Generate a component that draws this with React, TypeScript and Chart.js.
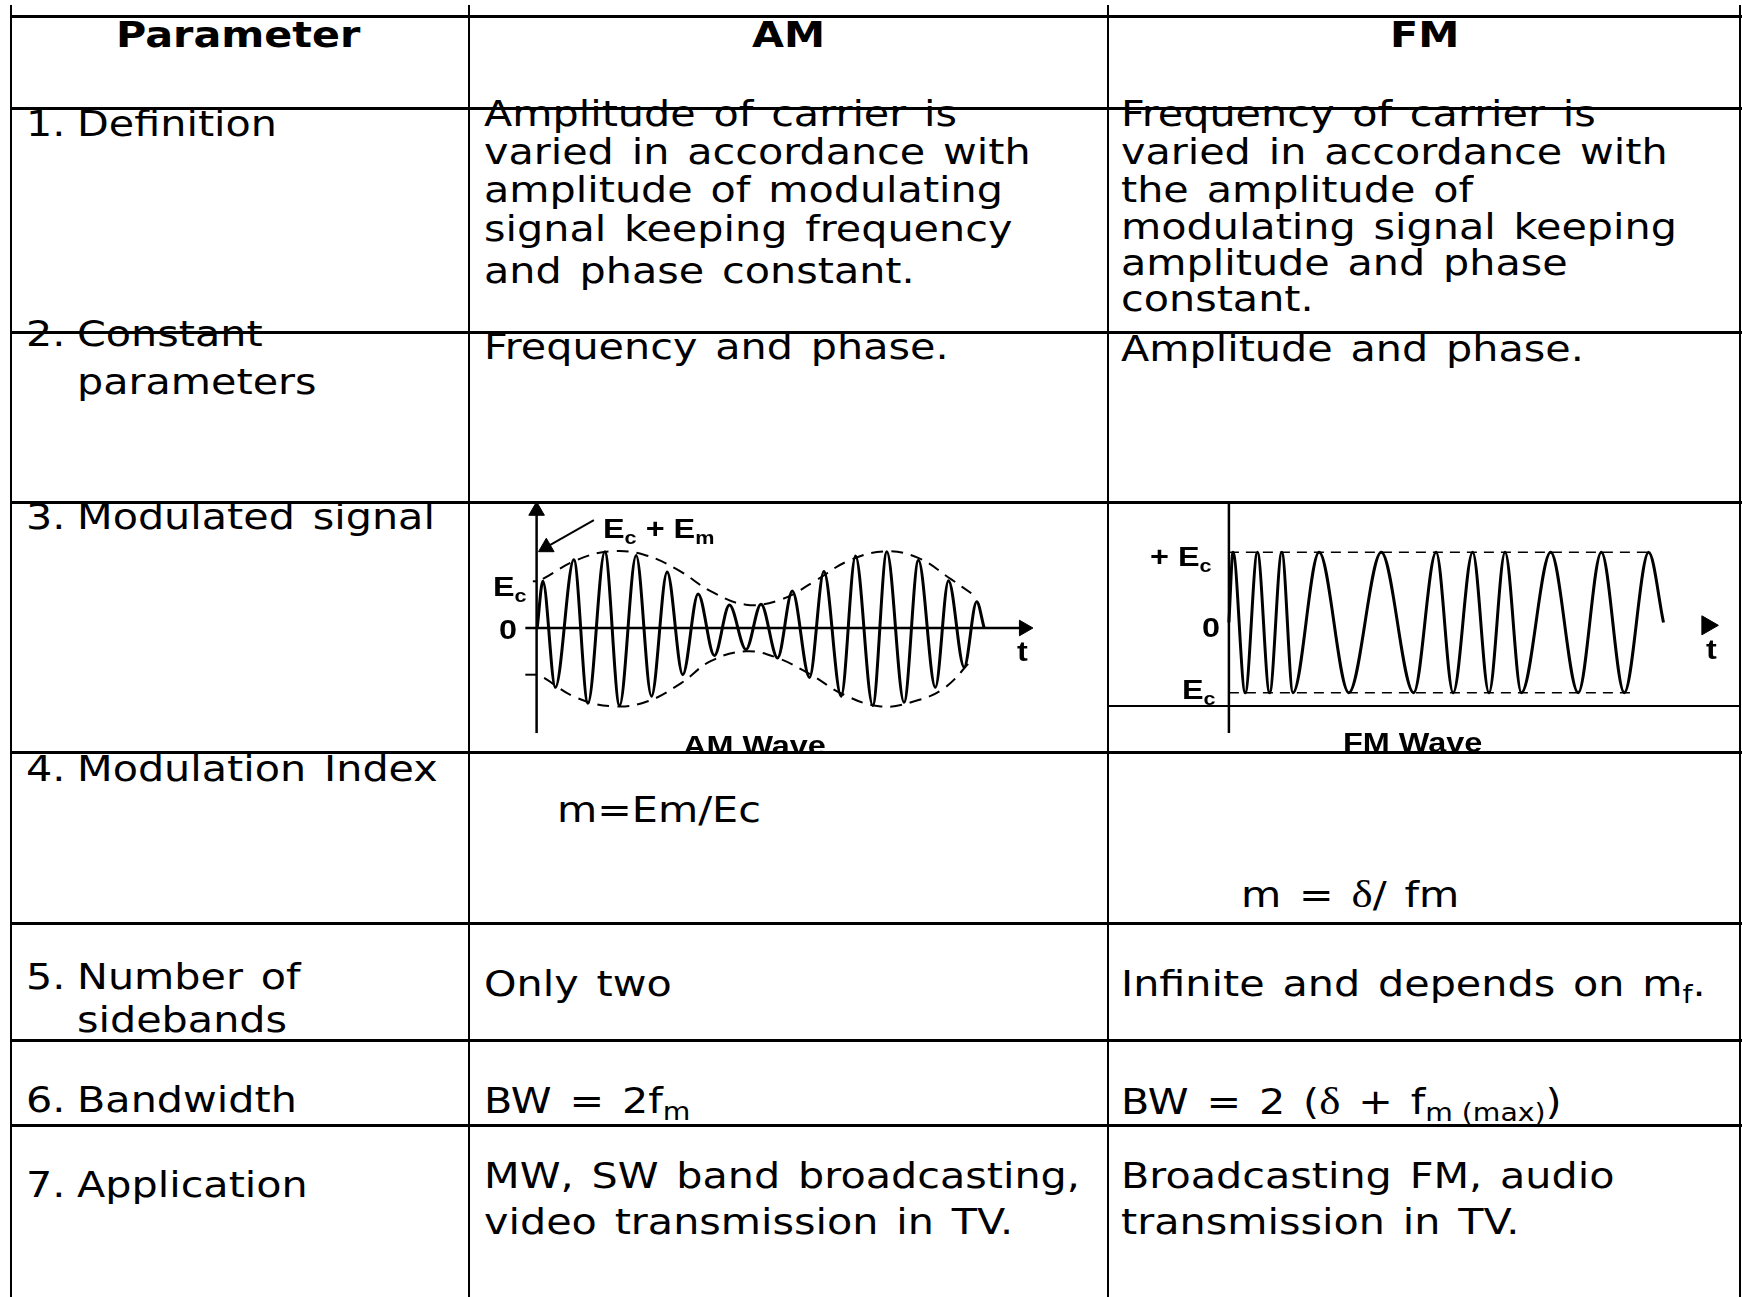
import React, { useEffect, useRef } from "react";
import { Chart, registerables } from "chart.js";
Chart.register(...registerables);

// ---------------- AM wave (t in carrier cycles, v in units of Ec) ----------------
const AM_PEAK_T = [0.2, 1.19, 2.18, 3.18, 4.17, 5.16, 6.16, 7.17, 8.17, 9.18, 10.19, 11.19, 12.2, 13.16, 14.06];
const AM_PEAK_V = [1.0, 1.46, 1.63, 1.55, 1.2, 0.73, 0.49, 0.51, 0.79, 1.21, 1.54, 1.63, 1.45, 1.01, 0.56];
const AM_TROUGH_T = [0.6, 1.64, 2.65, 3.67, 4.67, 5.68, 6.69, 7.7, 8.72, 9.73, 10.74, 11.74, 12.74, 13.66];
const AM_TROUGH_V = [-1.27, -1.61, -1.66, -1.46, -1.0, -0.59, -0.46, -0.64, -1.06, -1.46, -1.66, -1.59, -1.27, -0.84];
const AM_ENDS_T = [0.02, 14.3];
const AM_ENDS_V = [0, 0];
const AM_ENV_UP_T = [0.2, 1.3, 2.37, 3.43, 4.5, 5.56, 6.69, 7.81, 8.88, 9.94, 11.12, 12.19, 13.25, 13.96];
const AM_ENV_UP_V = [1.05, 1.46, 1.64, 1.57, 1.25, 0.79, 0.5, 0.61, 1.0, 1.43, 1.64, 1.5, 1.04, 0.71];
const AM_ENV_LO_T = [0.24, 1.3, 2.49, 3.55, 4.62, 5.56, 6.69, 7.69, 8.76, 9.82, 11.0, 12.07, 13.02, 13.91];
const AM_ENV_LO_V = [-1.07, -1.5, -1.68, -1.57, -1.18, -0.71, -0.5, -0.64, -1.0, -1.43, -1.68, -1.57, -1.29, -0.68];
const AM_TAXIS_T = [-0.36, 15.57];
const AM_VAXIS_V = [-2.25, 2.51];
const AM_TICK_T = [-0.36, 0];
const AM_TICK_V = [1, -1];
const AM_POINTER_T = [1.83, 0.31];
const AM_POINTER_V = [2.31, 1.73];

// ---------------- FM wave (t in arbitrary time units, v in units of Ec) ----------------
const FM_PEAK_T = [0.17, 1.17, 2.17, 3.7, 6.25, 8.5, 10.0, 11.33, 13.2, 15.28, 17.22];
const FM_PEAK_V = [1, 1, 1, 1, 1, 1, 1, 1, 1, 1, 1];
const FM_TROUGH_T = [0.67, 1.67, 2.63, 4.92, 7.58, 9.2, 10.67, 12.0, 14.33, 16.22];
const FM_TROUGH_V = [-1, -1, -1, -1, -1, -1, -1, -1, -1, -1];
const FM_ENDS_T = [0.0, 17.83];
const FM_ENDS_V = [0, 0];
const FM_LEVEL_UP_T = [0, 17.33];
const FM_LEVEL_LO_T = [0, 16.67];
const FM_VAXIS_V = [-1.574, 1.8];
const FM_TARROW = [19.63, -0.04];

// ---------------- table text ----------------
const ROW_NUMS = ["1.", "2.", "3.", "4.", "5.", "6.", "7."];
const ROW_LABELS = [["Definition"], ["Constant", "parameters"], ["Modulated signal"], ["Modulation Index"], ["Number of", "sidebands"], ["Bandwidth"], ["Application"]];
const AM_DEF = ["Amplitude of carrier is", "varied in accordance with", "amplitude of modulating", "signal keeping frequency", "and phase constant."];
const FM_DEF = ["Frequency of carrier is", "varied in accordance with", "the amplitude of", "modulating signal keeping", "amplitude and phase", "constant."];

function carrier(pT: number[], pV: number[], tT: number[], tV: number[], eT: number[], eV: number[]) {
  const pts: { x: number; y: number }[] = [{ x: eT[0], y: eV[0] }];
  pT.forEach((t, i) => {
    pts.push({ x: t, y: pV[i] });
    if (i < tT.length) pts.push({ x: tT[i], y: tV[i] });
  });
  pts.push({ x: eT[1], y: eV[1] });
  return pts;
}
const zip = (xs: number[], ys: number[]) => xs.map((x, i) => ({ x, y: ys[i] }));

const line = (data: any[], extra: any = {}) => ({
  data,
  borderColor: "#000",
  backgroundColor: "#000",
  borderWidth: 2.5,
  pointRadius: 0,
  pointHoverRadius: 0,
  fill: false,
  tension: 0,
  ...extra,
});
const arrowHead = (x: number, y: number, rot: number, r: number) => ({
  data: [{ x, y }],
  showLine: false,
  pointStyle: "triangle",
  pointRadius: r,
  pointHoverRadius: r,
  pointRotation: rot,
  pointBackgroundColor: "#000",
  pointBorderColor: "#000",
  pointBorderWidth: 1,
});

function amDatasets() {
  return [
    line(carrier(AM_PEAK_T, AM_PEAK_V, AM_TROUGH_T, AM_TROUGH_V, AM_ENDS_T, AM_ENDS_V), { cubicInterpolationMode: "monotone", borderWidth: 3 }),
    line(zip(AM_ENV_UP_T, AM_ENV_UP_V), { borderDash: [12, 8], borderWidth: 2, tension: 0.4 }),
    line(zip(AM_ENV_LO_T, AM_ENV_LO_V), { borderDash: [12, 8], borderWidth: 2, tension: 0.4 }),
    line(zip(AM_TAXIS_T, [0, 0]), { borderWidth: 2.5 }),
    arrowHead(AM_TAXIS_T[1], 0, 90, 9),
    line(zip([0, 0], AM_VAXIS_V), { borderWidth: 2.5 }),
    arrowHead(0, AM_VAXIS_V[1], 0, 9),
    line(zip([-0.12, AM_TICK_T[1]], [AM_TICK_V[0], AM_TICK_V[0]]), { borderWidth: 2 }),
    line(zip(AM_TICK_T, [AM_TICK_V[1], AM_TICK_V[1]]), { borderWidth: 2 }),
    line(zip(AM_POINTER_T, AM_POINTER_V), { borderWidth: 2 }),
    arrowHead(AM_POINTER_T[1], AM_POINTER_V[1], 240, 9),
  ];
}

function fmDatasets() {
  return [
    line(carrier(FM_PEAK_T, FM_PEAK_V, FM_TROUGH_T, FM_TROUGH_V, FM_ENDS_T, FM_ENDS_V), { cubicInterpolationMode: "monotone", borderWidth: 3 }),
    line(zip(FM_LEVEL_UP_T, [1, 1]), { borderDash: [10, 7], borderWidth: 1.5 }),
    line(zip(FM_LEVEL_LO_T, [-1, -1]), { borderDash: [10, 7], borderWidth: 1.5 }),
    line(zip([0, 0], FM_VAXIS_V), { borderWidth: 2.5 }),
    arrowHead(FM_TARROW[0], FM_TARROW[1], 90, 11),
  ];
}

function Wave(props: {
  left: number; top: number; width: number; height: number;
  xMin: number; xMax: number; yMin: number; yMax: number;
  make: () => any[]; children?: any;
}) {
  const ref = useRef<HTMLCanvasElement | null>(null);
  useEffect(() => {
    const chart = new Chart(ref.current as HTMLCanvasElement, {
      type: "line",
      data: { datasets: props.make() },
      options: {
        animation: false,
        responsive: false,
        maintainAspectRatio: false,
        devicePixelRatio: 1,
        events: [],
        layout: { padding: 0, autoPadding: false },
        plugins: { legend: { display: false }, tooltip: { enabled: false }, title: { display: false } },
        scales: {
          x: { type: "linear", display: false, min: props.xMin, max: props.xMax },
          y: { type: "linear", display: false, min: props.yMin, max: props.yMax },
        },
      } as any,
    });
    return () => chart.destroy();
  }, []);
  return (
    <div style={{ position: "absolute", left: props.left, top: props.top, width: props.width, height: props.height, overflow: "hidden" }}>
      <canvas ref={ref} width={props.width} height={props.height} style={{ position: "absolute", left: 0, top: 0, width: props.width, height: props.height }} />
      {props.children}
    </div>
  );
}

const FS = 35;
const SX = 1.18;
function T(p: { x: number; b: number; bold?: boolean; ws?: number; children: any }) {
  return (
    <div
      style={{
        position: "absolute",
        left: p.x,
        top: p.b - 0.846 * FS,
        fontFamily: '"DejaVu Sans"',
        fontSize: FS,
        lineHeight: 1,
        fontWeight: p.bold ? 700 : 400,
        whiteSpace: "pre",
        wordSpacing: p.ws ?? 4,
        transform: `scaleX(${SX})`,
        transformOrigin: "0 0",
        color: "#000",
      }}
    >
      {p.children}
    </div>
  );
}
const Sub = ({ children }: { children: any }) => (
  <span style={{ fontSize: 24, verticalAlign: -7, wordSpacing: 0 }}>{children}</span>
);
const Delta = () => <span style={{ fontFamily: '"Liberation Serif"', fontSize: 38 }}>δ</span>;

const LFS = 27;
function L(p: { x: number; b: number; children: any }) {
  return (
    <div
      style={{
        position: "absolute",
        left: p.x,
        top: p.b - 0.846 * LFS,
        fontFamily: '"Liberation Sans", Arial, sans-serif',
        fontWeight: 700,
        fontSize: LFS,
        lineHeight: 1,
        whiteSpace: "pre",
        transform: "scaleX(1.2)",
        transformOrigin: "0 0",
        color: "#000",
      }}
    >
      {p.children}
    </div>
  );
}
const LSub = ({ children }: { children: any }) => <span style={{ fontSize: 18, verticalAlign: -6 }}>{children}</span>;

const H = (y: number, x1: number, x2: number, t = 3) => (
  <div key={`h${y}`} style={{ position: "absolute", left: x1, top: y - t / 2, width: x2 - x1, height: t, background: "#000" }} />
);
const V = (x: number, y1: number, y2: number, t = 2) => (
  <div key={`v${x}`} style={{ position: "absolute", left: x - t / 2, top: y1, width: t, height: y2 - y1, background: "#000" }} />
);

export default function App() {
  const numX = 26;
  const lblX = 77;
  const amX = 484;
  const fmX = 1121;
  const leftBase = [[137], [347, 395], [530], [782], [990, 1033], [1113], [1198]];
  const amDefBase = [127, 164.5, 202.5, 241.5, 283.5];
  const fmDefBase = [127, 164.5, 202.5, 240, 276, 311.5];
  return (
    <div style={{ position: "absolute", left: 0, top: 0, width: 1742, height: 1297, background: "#fff", overflow: "hidden" }}>
      <Wave left={471} top={504} width={636} height={247} xMin={-2.096} xMax={18.224} yMin={-2.634} yMax={2.655} make={amDatasets}>
        <L x={132} b={35}>E<LSub>c</LSub> + E<LSub>m</LSub></L>
        <L x={22} b={93}>E<LSub>c</LSub></L>
        <L x={28} b={136}>0</L>
        <L x={546} b={158}>t</L>
        <L x={212} b={252}>AM Wave</L>
      </Wave>
      <Wave left={1110} top={504} width={628} height={247} xMin={-4.878} xMax={20.886} yMin={-1.83} yMax={1.688} make={fmDatasets}>
        <L x={40} b={63}>+ E<LSub>c</LSub></L>
        <L x={92} b={134}>0</L>
        <L x={72} b={196}>E<LSub>c</LSub></L>
        <L x={596} b={156}>t</L>
        <L x={233} b={249}>FM Wave</L>
      </Wave>

      {V(11, 5, 1297)}
      {V(469, 5, 1297)}
      {V(1108, 5, 1297)}
      {V(1739.5, 5, 1297)}
      {H(16.7, 10, 1742, 2.5)}
      {H(108.3, 10, 1742)}
      {H(332.3, 10, 1742)}
      {H(502.3, 10, 1742)}
      {H(752.3, 10, 1742)}
      {H(923, 10, 1742)}
      {H(1040, 10, 1742)}
      {H(1125.7, 10, 1742)}
      {H(705.5, 1108, 1740, 2)}

      <T x={116} b={48} bold>Parameter</T>
      <T x={752} b={48} bold>AM</T>
      <T x={1390} b={48} bold>FM</T>

      {ROW_NUMS.map((n, i) => (
        <React.Fragment key={n}>
          <T x={numX} b={leftBase[i][0]}>{n}</T>
          {ROW_LABELS[i].map((s, j) => (
            <T key={s} x={lblX} b={leftBase[i][j]}>{s}</T>
          ))}
        </React.Fragment>
      ))}

      {AM_DEF.map((s, i) => (
        <T key={s} x={amX} b={amDefBase[i]}>{s}</T>
      ))}
      {FM_DEF.map((s, i) => (
        <T key={"f" + s} x={fmX} b={fmDefBase[i]}>{s}</T>
      ))}

      <T x={amX} b={360}>Frequency and phase.</T>
      <T x={fmX} b={362}>Amplitude and phase.</T>

      <T x={557} b={823} ws={0}>m=Em/Ec</T>
      <T x={1241} b={905}>m = <Delta />/ fm</T>

      <T x={amX} b={997}>Only two</T>
      <T x={fmX} b={997}>Infinite and depends on m<Sub>f</Sub>.</T>

      <T x={amX} b={1114}>BW = 2f<Sub>m</Sub></T>
      <T x={fmX} b={1112}>BW = 2 (<Delta /> + f<Sub>m (max)</Sub>)</T>

      <T x={amX} b={1189}>MW, SW band broadcasting,</T>
      <T x={amX} b={1235}>video transmission in TV.</T>
      <T x={fmX} b={1189}>Broadcasting FM, audio</T>
      <T x={fmX} b={1235}>transmission in TV.</T>
    </div>
  );
}
